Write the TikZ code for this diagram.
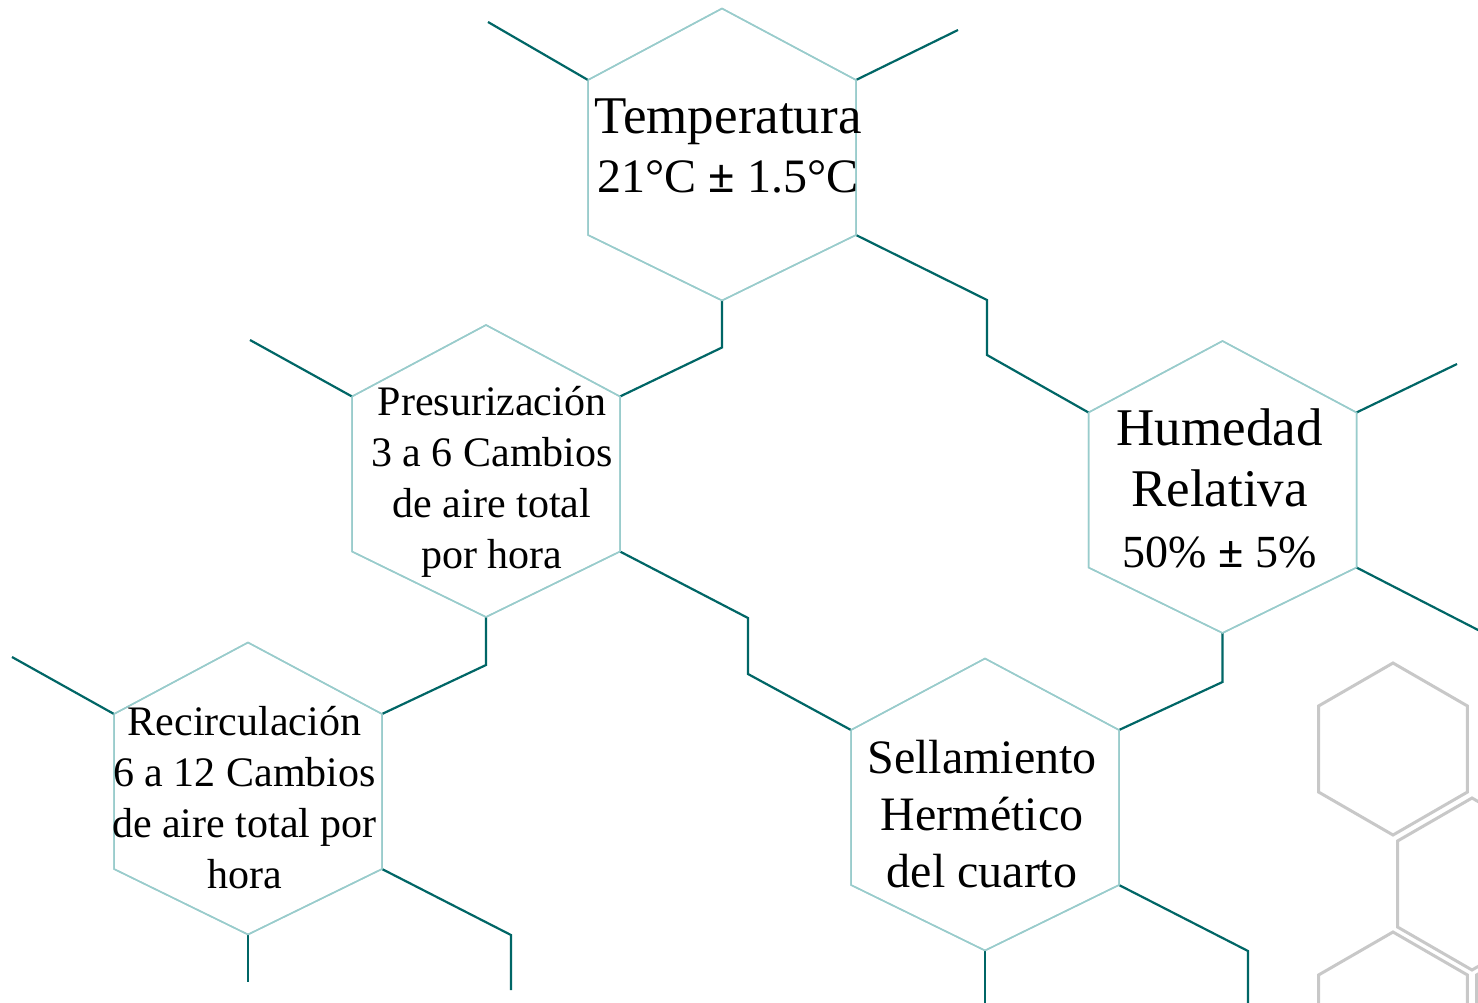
\documentclass[tikz,border=0pt]{standalone}
\usepackage{fontspec}
\setmainfont{Liberation Serif}
\definecolor{darkteal}{RGB}{0,102,102}
\definecolor{lightteal}{RGB}{153,204,204}
\definecolor{hexgray}{RGB}{200,200,200}
\newcommand{\pmb}{\textbf{±}}
\tikzset{
  hexline/.style={draw=lightteal, line width=1.5pt, line join=miter},
  link/.style={draw=darkteal, line width=2.2pt},
  grayhex/.style={draw=hexgray, line width=3pt, line join=miter},
  label/.style={align=center, inner sep=0pt, text=black},
  hexa/.pic={\draw[hexline] (0,-149) coordinate (-top) -- (134,-77.5) coordinate (-ur) -- (134,77.5) coordinate (-lr) -- (0,143) coordinate (-bot) -- (-134,77.5) coordinate (-ll) -- (-134,-77.5) coordinate (-ul) -- cycle;},
  ghex/.pic={\draw[grayhex] (90:86) -- (30:86) -- (-30:86) -- (-90:86) -- (-150:86) -- (150:86) -- cycle;}
}
\begin{document}
\begin{tikzpicture}[x=1pt,y=-1pt]
\useasboundingbox (0,0) rectangle (1478,1002);
\fill[white] (0,0) rectangle (1478,1002);
% gray decorative hexagons
\pic (G1) at (1393,749) {ghex};
\pic (G2) at (1472,884) {ghex};
\pic (G3) at (1393,1018) {ghex};
\pic (G4) at (1551,1018) {ghex};
% teal hexagons
\pic (T) at (722,157.5) {hexa};
\pic (P) at (486,474) {hexa};
\pic (H) at (1222.5,490) {hexa};
\pic (R) at (248,791.5) {hexa};
\pic (S) at (985,807.5) {hexa};
% free ends
\coordinate (tA) at (488,22);
\coordinate (tB) at (958,30);
\coordinate (pA) at (250,340);
\coordinate (hA) at (1457,364);
\coordinate (hB) at (1482,632);
\coordinate (rA) at (12,657);
\coordinate (rB) at (511,990);
\coordinate (rC) at (248,982);
\coordinate (sA) at (1248,1004);
\coordinate (sB) at (985,1004);
% connectors
\draw[link] (T-ul) -- (tA);
\draw[link] (T-ur) -- (tB);
\draw[link] (T-lr) -- (987,300) -- (987,355) -- (H-ul);
\draw[link] (T-bot) -- ++(0,47) -- (P-ur);
\draw[link] (P-ul) -- (pA);
\draw[link] (P-lr) -- (748,618) -- (748,674) -- (S-ul);
\draw[link] (P-bot) -- ++(0,48) -- (R-ur);
\draw[link] (H-ur) -- (hA);
\draw[link] (H-lr) -- (hB);
\draw[link] (H-bot) -- ++(0,49) -- (S-ur);
\draw[link] (R-ul) -- (rA);
\draw[link] (R-lr) -- (511,935) -- (rB);
\draw[link] (R-bot) -- (rC);
\draw[link] (S-lr) -- (1248,951) -- (sA);
\draw[link] (S-bot) -- (sB);
% redraw hexagon outlines on top
\pic at (722,157.5) {hexa};
\pic at (486,474) {hexa};
\pic at (1222.5,490) {hexa};
\pic at (248,791.5) {hexa};
\pic at (985,807.5) {hexa};
% labels
\node[label, font=\fontsize{53}{59}\selectfont] (tT) at (728,150.7) {\strut Temperatura\\{\fontsize{48}{59}\selectfont 21°C \pmb{} 1.5°C}\strut};
\node[label, font=\fontsize{42}{51}\selectfont] (tP) at (492,481.8) {\strut Presurización\\3 a 6 Cambios\\de aire total\\por hora\strut};
\node[label, font=\fontsize{53}{61}\selectfont] (tH) at (1219.5,494) {\strut Humedad\\Relativa\\{\fontsize{46}{61}\selectfont 50\% \pmb{} 5\%}\strut};
\node[label, font=\fontsize{42}{51}\selectfont] (tR) at (244.5,801.3) {\strut Recirculación\\6 a 12 Cambios\\de aire total por\\hora\strut};
\node[label, font=\fontsize{48}{57}\selectfont] (tS) at (982,818.6) {\strut Sellamiento\\Hermético\\del cuarto\strut};
\end{tikzpicture}
\end{document}
